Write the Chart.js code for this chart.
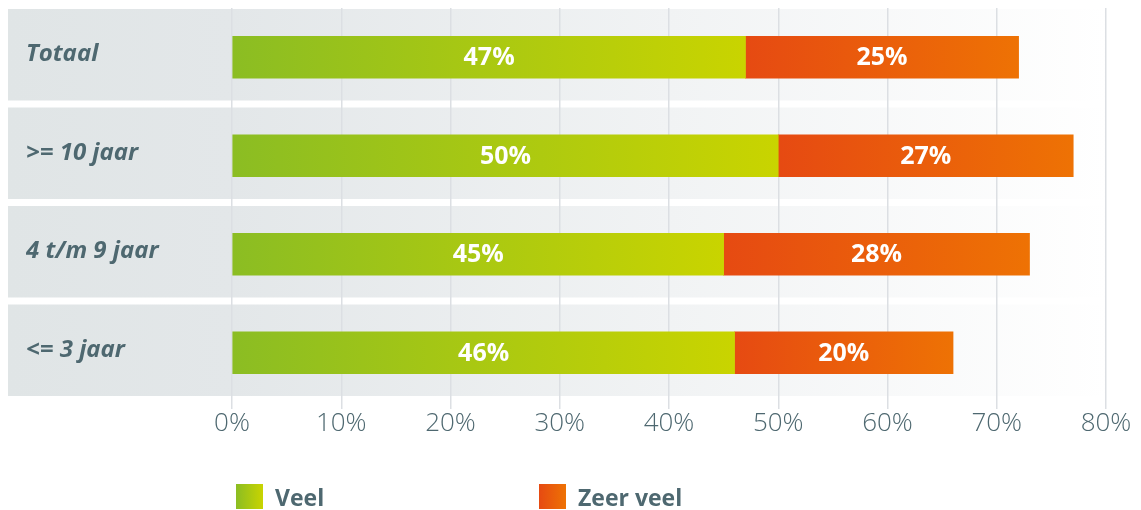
<!DOCTYPE html>
<html lang="nl">
<head>
<meta charset="utf-8">
<title>Veel / Zeer veel per dienstjaren</title>
<script src="https://cdn.jsdelivr.net/npm/chart.js@4.4.1/dist/chart.umd.min.js"></script>
<style>
  html, body { margin: 0; padding: 0; background: #fff; }
  .wrap { position: relative; width: 1141px; height: 510px; }
  .legend {
    position: absolute; left: 236px; top: 484px;
    margin: 0; padding: 0; list-style: none; display: flex;
    font-family: "Open Sans", sans-serif; font-weight: 700; font-size: 23px;
    color: #4e6870;
  }
  .legend li { display: flex; align-items: center; width: 303px; height: 25px; }
  .legend .swatch { width: 27px; height: 25px; margin-right: 12px; }
</style>
</head>
<body>
<div class="wrap">
  <canvas id="chart"></canvas>
  <ul class="legend" id="legend"></ul>
</div>
<script>
// Share of answers per group, in percent
const categories = ['Totaal', '>= 10 jaar', '4 t/m 9 jaar', '<= 3 jaar'];
const seriesNames = ['Veel', 'Zeer veel'];
const veel = [47, 50, 45, 46];
const zeerVeel = [25, 27, 28, 20];
const xTicks = [0, 10, 20, 30, 40, 50, 60, 70, 80];

const greenStops = ['#8bbd23', '#c9d400'];
const orangeStops = ['#e64a12', '#ee7204'];
const slate = '#4e6870';

// Horizontal gradient that runs over each bar's own length
function barGradient(stops) {
    return (ctx) => {
        const chart = ctx.chart;
        if (!chart.chartArea || ctx.type !== 'data') return stops[0];
        const x = chart.scales.x;
        let start = 0;
        for (let d = 0; d < ctx.datasetIndex; d++) {
            start += chart.data.datasets[d].data[ctx.dataIndex];
        }
        const end = start + ctx.raw;
        const g = chart.ctx.createLinearGradient(x.getPixelForValue(start), 0, x.getPixelForValue(end), 0);
        g.addColorStop(0, stops[0]);
        g.addColorStop(1, stops[1]);
        return g;
    };
}

// Grey row bands behind each category, fading out to the right
const rowBands = {
    id: 'rowBands',
    beforeDraw(chart) {
        const {ctx, chartArea, scales: {y}} = chart;
        const pitch = (chartArea.bottom - chartArea.top) / categories.length;
        const left = 8;
        const g = ctx.createLinearGradient(left, 0, chart.width, 0);
        g.addColorStop(0, '#e0e5e6');
        g.addColorStop((chartArea.left - left) / (chart.width - left), '#e3e7e9');
        g.addColorStop(0.97, '#ffffff');
        ctx.save();
        ctx.fillStyle = g;
        categories.forEach((c, i) => {
            const yc = y.getPixelForValue(i);
            ctx.fillRect(left, yc - pitch / 2 + 1, chart.width - left, pitch - 7);
        });
        ctx.restore();
    }
};

// White percentage in the middle of every bar segment
const barLabels = {
    id: 'barLabels',
    afterDatasetsDraw(chart) {
        const {ctx} = chart;
        ctx.save();
        ctx.font = 'bold 25px "Open Sans", sans-serif';
        ctx.fillStyle = '#ffffff';
        ctx.textAlign = 'center';
        ctx.textBaseline = 'middle';
        chart.data.datasets.forEach((ds, di) => {
            chart.getDatasetMeta(di).data.forEach((bar, i) => {
                const {x, y, base} = bar.getProps(['x', 'y', 'base'], true);
                ctx.fillText(ds.data[i] + '%', (x + base) / 2, y + 1);
            });
        });
        ctx.restore();
    }
};

// Legend as html list under the chart
const htmlLegend = {
    id: 'htmlLegend',
    afterUpdate(chart) {
        const ul = document.getElementById('legend');
        ul.innerHTML = '';
        chart.data.datasets.forEach((ds, i) => {
            const stops = i === 0 ? greenStops : orangeStops;
            const li = document.createElement('li');
            const box = document.createElement('span');
            box.className = 'swatch';
            box.style.background = 'linear-gradient(to right, ' + stops[0] + ', ' + stops[1] + ')';
            const text = document.createElement('span');
            text.textContent = ds.label;
            li.appendChild(box);
            li.appendChild(text);
            ul.appendChild(li);
        });
    }
};

const chartData = {
    labels: categories,
    datasets: [
        { label: seriesNames[0], data: veel, backgroundColor: barGradient(greenStops), barThickness: 42 },
        { label: seriesNames[1], data: zeerVeel, backgroundColor: barGradient(orangeStops), barThickness: 42 }
    ]
};

new Chart(document.getElementById('chart'), {
    type: 'bar',
    data: chartData,
    plugins: [rowBands, barLabels, htmlLegend],
    options: {
        indexAxis: 'y',
        responsive: true,
        maintainAspectRatio: false,
        animation: false,
        layout: { padding: { left: 26, right: 35, top: 8, bottom: 71 } },
        plugins: {
            legend: { display: false },
            tooltip: { enabled: false }
        },
        scales: {
            x: {
                stacked: true,
                min: xTicks[0],
                max: xTicks[xTicks.length - 1],
                afterBuildTicks(scale) {
                    scale.ticks = xTicks.map(v => ({ value: v }));
                },
                grid: { color: '#dcdfe3', lineWidth: 1.5, tickLength: 7 },
                border: { display: false },
                ticks: {
                    padding: 2,
                    color: slate,
                    font: { family: '"Open Sans", sans-serif', size: 26, weight: '300', lineHeight: 1 },
                    callback: (v) => v + '%'
                }
            },
            y: {
                stacked: true,
                afterFit(scale) {
                    // keep the label column fixed and drop the extra room for label overhang
                    scale.width = 206;
                    scale.paddingTop = 0;
                    scale.paddingBottom = 0;
                },
                grid: { display: false },
                border: { display: false },
                ticks: {
                    crossAlign: 'far',
                    labelOffset: -3,
                    color: slate,
                    font: { family: '"Open Sans", sans-serif', size: 24, weight: 'bold', style: 'italic' }
                }
            }
        }
    }
});
</script>
</body>
</html>
